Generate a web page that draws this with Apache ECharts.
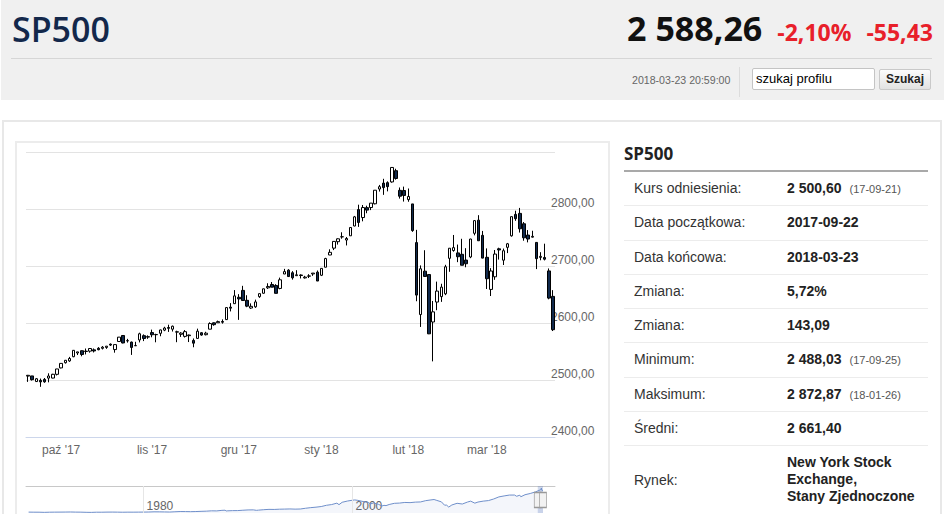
<!DOCTYPE html>
<html lang="pl">
<head>
<meta charset="utf-8">
<script src="https://cdn.jsdelivr.net/npm/echarts@6/dist/echarts.min.js"></script>
<style>
html,body{margin:0;padding:0;background:#fff;}
body{width:945px;height:514px;overflow:hidden;position:relative;font-family:"Liberation Sans",Arial,sans-serif;}
.abs{position:absolute;}
#hdr{left:1px;top:0;width:943px;height:100px;background:#f0f0f0;}
#title{left:12px;top:6px;font-family:"Open Sans",sans-serif;font-weight:600;font-size:34px;color:#13284b;white-space:nowrap;}
#quote{right:12px;top:5px;display:flex;align-items:baseline;font-family:"Open Sans",sans-serif;font-weight:700;white-space:nowrap;}
#price{font-size:34px;color:#111;}
#pct{font-size:23px;color:#e8202a;margin-left:15px;}
#chg{font-size:23px;color:#e8202a;margin-left:15px;}
#hline{left:11px;top:58px;width:921px;height:1px;background:#d6d6d6;}
#ts{left:632px;top:73px;font-size:10.6px;color:#666;line-height:14px;white-space:nowrap;}
#vsep{left:739px;top:67px;width:1px;height:30px;background:#dcdcdc;}
#search{left:752px;top:68px;width:123px;height:22px;box-sizing:border-box;border:1px solid #c4c4c4;background:#fff;border-radius:2px;font-size:13px;line-height:20px;padding-left:3px;color:#000;white-space:nowrap;}
#btn{left:879px;top:69px;width:52px;height:21px;box-sizing:border-box;border:1px solid #c9c9c9;background:linear-gradient(#fcfcfc,#e2e2e2);font-weight:bold;font-size:12px;text-align:center;line-height:19px;border-radius:2px;color:#222;}
#outer{left:2px;top:120px;width:936px;height:420px;border:2px solid #e8e8e8;}
#chartbox{left:15px;top:141px;width:591px;height:400px;border:2px solid #ececec;}
#chart{left:16px;top:142px;width:592px;height:372px;}
#ttl{left:624px;top:142px;font-family:"Open Sans",sans-serif;font-weight:700;font-size:17px;color:#222;}
#tline{left:624px;top:170px;width:304px;height:2px;background:#a9a9a9;}
#tbl{left:624px;top:172px;width:304px;}
.row{position:relative;height:34.25px;box-sizing:border-box;border-bottom:1px solid #ececec;font-size:14px;line-height:33px;}
.lab{position:absolute;left:10px;top:0;color:#333;white-space:nowrap;}
.val{position:absolute;left:163px;top:0;color:#222;font-weight:bold;white-space:nowrap;}
.dt{font-weight:normal;font-size:11px;color:#555;margin-left:8px;}
.row.last{height:68px;border-bottom:none;}
.row.last .lab{line-height:68px;}
.row.last .val{top:8px;line-height:17px;}
</style>
</head>
<body>
<div id="hdr" class="abs"></div>
<div id="title" class="abs">SP500</div>
<div id="quote" class="abs"><span id="price">2 588,26</span><span id="pct">-2,10%</span><span id="chg">-55,43</span></div>
<div id="hline" class="abs"></div>
<div id="ts" class="abs">2018-03-23 20:59:00</div>
<div id="vsep" class="abs"></div>
<div id="search" class="abs">szukaj profilu</div>
<div id="btn" class="abs">Szukaj</div>
<div id="outer" class="abs"></div>
<div id="chartbox" class="abs"></div>
<div id="chart" class="abs"></div>
<div id="ttl" class="abs">SP500</div>
<div id="tline" class="abs"></div>
<div id="tbl" class="abs">
  <div class="row"><span class="lab">Kurs odniesienia:</span><span class="val">2 500,60<span class="dt">(17-09-21)</span></span></div>
  <div class="row"><span class="lab">Data początkowa:</span><span class="val">2017-09-22</span></div>
  <div class="row"><span class="lab">Data końcowa:</span><span class="val">2018-03-23</span></div>
  <div class="row"><span class="lab">Zmiana:</span><span class="val">5,72%</span></div>
  <div class="row"><span class="lab">Zmiana:</span><span class="val">143,09</span></div>
  <div class="row"><span class="lab">Minimum:</span><span class="val">2 488,03<span class="dt">(17-09-25)</span></span></div>
  <div class="row"><span class="lab">Maksimum:</span><span class="val">2 872,87<span class="dt">(18-01-26)</span></span></div>
  <div class="row"><span class="lab">Średni:</span><span class="val">2 661,40</span></div>
  <div class="row last"><span class="lab">Rynek:</span><span class="val">New York Stock<br>Exchange,<br>Stany Zjednoczone</span></div>
</div>
<script>
const dates = [
 '2017-09-20','2017-09-21','2017-09-22','2017-09-25','2017-09-26','2017-09-27','2017-09-28','2017-09-29',
 '2017-10-02','2017-10-03','2017-10-04','2017-10-05','2017-10-06','2017-10-09','2017-10-10','2017-10-11','2017-10-12','2017-10-13',
 '2017-10-16','2017-10-17','2017-10-18','2017-10-19','2017-10-20','2017-10-23','2017-10-24','2017-10-25','2017-10-26','2017-10-27','2017-10-30','2017-10-31',
 '2017-11-01','2017-11-02','2017-11-03','2017-11-06','2017-11-07','2017-11-08','2017-11-09','2017-11-10','2017-11-13','2017-11-14','2017-11-15','2017-11-16','2017-11-17',
 '2017-11-20','2017-11-21','2017-11-22','2017-11-24','2017-11-27','2017-11-28','2017-11-29','2017-11-30',
 '2017-12-01','2017-12-04','2017-12-05','2017-12-06','2017-12-07','2017-12-08','2017-12-11','2017-12-12','2017-12-13','2017-12-14','2017-12-15',
 '2017-12-18','2017-12-19','2017-12-20','2017-12-21','2017-12-22','2017-12-26','2017-12-27','2017-12-28','2017-12-29',
 '2018-01-02','2018-01-03','2018-01-04','2018-01-05','2018-01-08','2018-01-09','2018-01-10','2018-01-11','2018-01-12',
 '2018-01-16','2018-01-17','2018-01-18','2018-01-19','2018-01-22','2018-01-23','2018-01-24','2018-01-25','2018-01-26','2018-01-29','2018-01-30','2018-01-31',
 '2018-02-01','2018-02-02','2018-02-05','2018-02-06','2018-02-07','2018-02-08','2018-02-09','2018-02-12','2018-02-13','2018-02-14','2018-02-15','2018-02-16',
 '2018-02-20','2018-02-21','2018-02-22','2018-02-23','2018-02-26','2018-02-27','2018-02-28',
 '2018-03-01','2018-03-02','2018-03-05','2018-03-06','2018-03-07','2018-03-08','2018-03-09','2018-03-12','2018-03-13','2018-03-14','2018-03-15','2018-03-16',
 '2018-03-19','2018-03-20','2018-03-21','2018-03-22','2018-03-23'
];
const opens = [
 2506.84,2507.16,2497.26,2499.39,2501.04,2503.30,2503.41,2509.96,
 2521.20,2530.34,2533.48,2540.86,2547.44,2551.39,2549.99,2550.62,2552.88,2555.66,
 2555.57,2557.17,2562.87,2553.39,2567.56,2578.08,2568.66,2566.52,2560.08,2570.26,2577.75,2575.99,
 2583.21,2579.46,2581.93,2587.47,2592.11,2589.16,2584.00,2580.18,2576.53,2577.75,2569.45,2572.95,2582.94,
 2579.49,2589.17,2600.31,2600.42,2602.66,2605.94,2627.82,2633.93,
 2645.10,2657.19,2639.78,2626.24,2628.38,2646.21,2652.19,2661.73,2667.59,2665.87,2660.63,
 2685.92,2692.71,2688.18,2683.02,2684.22,2679.09,2682.10,2686.10,2689.15,
 2683.73,2697.85,2719.31,2731.33,2742.67,2751.15,2745.55,2752.97,2770.18,
 2798.96,2784.99,2802.40,2802.60,2809.16,2835.05,2845.42,2846.24,2847.48,2867.23,2832.74,2832.41,
 2816.45,2808.92,2741.06,2614.78,2690.95,2685.01,2601.78,2636.75,2646.27,2651.21,2713.46,2727.14,
 2722.99,2720.53,2710.42,2715.80,2757.37,2780.45,2753.78,
 2715.22,2658.89,2681.06,2730.18,2710.18,2732.75,2752.91,2790.54,2792.31,2774.06,2754.27,2750.57,
 2741.38,2715.05,2714.99,2691.36,2646.71
];
const highs = [
 2508.85,2507.16,2503.47,2502.54,2503.51,2511.75,2510.81,2519.44,
 2529.23,2535.13,2540.53,2552.51,2549.41,2551.82,2555.23,2555.24,2555.33,2557.65,
 2559.47,2559.71,2564.11,2562.36,2575.44,2578.29,2572.18,2567.40,2567.07,2582.98,2580.03,2578.29,
 2588.40,2581.11,2588.42,2593.38,2597.02,2595.47,2586.50,2583.81,2587.66,2579.66,2572.84,2590.09,2583.96,
 2584.64,2601.19,2600.94,2604.21,2606.41,2627.69,2634.89,2657.74,
 2650.62,2665.19,2648.72,2634.41,2640.99,2651.65,2660.33,2669.72,2671.88,2668.09,2679.63,
 2694.97,2694.44,2691.01,2692.64,2685.35,2682.74,2685.64,2687.66,2692.12,
 2695.89,2714.37,2729.29,2743.45,2748.51,2759.14,2750.80,2767.56,2787.85,
 2807.54,2807.04,2805.83,2810.33,2833.03,2842.24,2852.97,2848.56,2872.87,2870.62,2837.75,2839.26,
 2835.96,2808.92,2763.39,2701.04,2727.67,2685.27,2638.67,2672.61,2668.84,2702.10,2731.51,2754.42,
 2737.60,2747.75,2731.26,2747.76,2780.64,2789.15,2761.52,
 2730.89,2696.25,2728.09,2732.08,2730.60,2740.45,2786.57,2796.98,2801.90,2777.11,2763.03,2761.85,
 2741.38,2724.22,2739.14,2695.68,2657.67
];
const lows = [
 2496.67,2499.00,2496.54,2488.03,2495.12,2495.91,2502.93,2507.99,
 2520.40,2528.85,2531.80,2540.02,2543.79,2541.60,2544.86,2547.95,2548.31,2552.09,
 2553.59,2554.69,2559.67,2547.92,2567.56,2564.33,2565.58,2544.00,2559.80,2565.94,2568.25,2572.15,
 2574.92,2566.17,2576.77,2585.66,2584.35,2585.02,2566.33,2575.57,2574.48,2566.56,2557.45,2572.95,2577.62,
 2578.24,2589.17,2595.23,2600.42,2598.87,2605.44,2620.32,2633.93,
 2605.52,2639.03,2627.73,2624.75,2626.53,2644.10,2651.47,2659.78,2662.85,2652.01,2659.14,
 2685.92,2680.74,2676.11,2682.40,2678.13,2677.96,2678.91,2682.69,2673.61,
 2682.36,2697.77,2719.07,2727.92,2737.60,2747.86,2736.06,2752.78,2769.64,
 2768.64,2778.38,2792.56,2798.08,2808.12,2830.59,2824.81,2830.94,2846.18,2851.48,2818.27,2813.04,
 2812.70,2759.97,2638.17,2593.07,2681.33,2580.56,2532.69,2622.45,2637.08,2648.87,2689.82,2725.11,
 2706.76,2701.29,2697.77,2713.74,2753.78,2744.22,2713.54,
 2659.65,2647.32,2675.75,2711.26,2701.74,2722.65,2751.54,2779.26,2758.68,2744.38,2741.47,2749.97,
 2694.59,2710.05,2709.79,2641.59,2585.89
];
const closes = [
 2508.24,2500.60,2502.22,2496.66,2496.84,2507.04,2510.06,2519.36,
 2529.12,2534.58,2537.74,2552.07,2549.33,2544.73,2550.64,2555.24,2550.93,2553.17,
 2557.64,2559.36,2561.26,2562.10,2575.21,2564.98,2569.13,2557.15,2560.40,2581.07,2572.83,2575.26,
 2579.36,2579.85,2587.84,2591.13,2590.64,2594.38,2584.62,2582.30,2584.84,2578.87,2564.62,2585.64,2578.85,
 2582.14,2599.03,2597.08,2602.42,2601.42,2627.04,2626.07,2647.58,
 2642.22,2639.44,2629.57,2629.27,2636.98,2651.50,2659.99,2664.11,2662.85,2652.01,2675.81,
 2690.16,2681.47,2679.25,2684.57,2683.34,2680.50,2682.62,2687.54,2673.61,
 2695.81,2713.06,2723.99,2743.15,2747.71,2751.29,2748.23,2767.56,2786.24,
 2776.42,2802.56,2798.03,2810.30,2832.97,2839.13,2837.54,2839.25,2872.87,2853.53,2822.43,2823.81,
 2821.98,2762.13,2648.94,2695.14,2681.66,2581.00,2619.55,2656.00,2662.94,2698.63,2731.20,2732.22,
 2716.26,2701.33,2703.96,2747.30,2779.60,2744.28,2713.83,
 2677.67,2691.25,2720.94,2728.12,2726.80,2738.97,2786.57,2783.02,2765.31,2749.48,2747.33,2752.01,
 2712.92,2716.94,2711.93,2643.69,2588.26
];
const monthNames = ['sty','lut','mar','kwi','maj','cze','lip','sie','wrz','paź','lis','gru'];
const priceTicks = {min: 2400, max: 2900, step: 100};
const navYears = [1969,1969.5,1970,1970.5,1971,1971.5,1972,1972.5,1973,1973.5,1974,1974.5,1975,1975.5,1976,1976.5,1977,1977.5,1978,1978.5,1979,1979.5,
 1980,1980.5,1981,1981.5,1982,1982.5,1983,1983.5,1984,1984.5,1985,1985.5,1986,1986.5,1987,1987.5,1987.8,1987.9,1988,1988.5,1989,1989.5,
 1990,1990.5,1990.8,1991,1991.5,1992,1992.5,1993,1993.5,1994,1994.5,1995,1995.5,1996,1996.5,1997,1997.5,1998,1998.5,1998.7,1999,1999.5,
 2000,2000.2,2000.5,2001,2001.5,2001.7,2002,2002.5,2002.8,2003,2003.2,2003.5,2004,2004.5,2005,2005.5,2006,2006.5,2007,2007.5,2007.8,
 2008,2008.5,2008.8,2009,2009.2,2009.5,2010,2010.5,2011,2011.3,2011.7,2012,2012.5,2013,2013.5,2014,2014.5,2015,2015.5,2015.7,
 2016,2016.1,2016.5,2017,2017.5,2018,2018.07,2018.1,2018.22];
const navValues = [103,95,92,75,92,100,103,108,118,104,97,80,70,93,90,104,107,100,89,98,96,102,
 106,114,136,131,122,110,141,168,165,153,167,191,211,250,242,304,320,230,247,272,278,317,
 353,360,306,330,380,417,408,436,450,466,444,459,544,616,670,741,885,970,1133,957,1229,1372,
 1469,1498,1454,1320,1224,1040,1148,990,800,880,848,975,1112,1140,1212,1191,1248,1270,1418,1503,1549,
 1468,1280,900,903,680,919,1115,1030,1258,1360,1131,1258,1362,1426,1606,1848,1960,2059,2063,1920,
 2044,1865,2098,2239,2423,2674,2872,2619,2588];
const navLabelYears = [1980, 2000];
const navRange = {min: 1968.75, max: 2019.37};
const navSelection = [2017.72, 2018.22];

const FONT = '"Liberation Sans", Arial, sans-serif';
const isMonthStart = (i) => i > 0 && dates[i].slice(5, 7) !== dates[i - 1].slice(5, 7);
const candleData = dates.map((d, i) => [opens[i], closes[i], lows[i], highs[i]]);
const navData = navYears.map((y, i) => [y, navValues[i]]);

const chart = echarts.init(document.getElementById('chart'), null, {renderer: 'svg'});
chart.setOption({
  animation: false,
  textStyle: {fontFamily: FONT},
  grid: [
    {left: 10, top: 10, width: 529, height: 285},
    {left: 10, top: 344, width: 529, height: 27}
  ],
  xAxis: [
    {
      type: 'category', gridIndex: 0, data: dates, boundaryGap: true,
      axisLine: {lineStyle: {color: '#ccd6eb', width: 1}},
      axisTick: {interval: (i) => isMonthStart(i), alignWithLabel: true, length: 10, lineStyle: {color: '#ccd6eb'}},
      axisLabel: {
        interval: (i) => isMonthStart(i), color: '#666', fontSize: 12, margin: 7, fontFamily: FONT,
        formatter: (v) => monthNames[+v.slice(5, 7) - 1] + " '" + v.slice(2, 4)
      },
      splitLine: {show: false}
    },
    {
      type: 'value', gridIndex: 1, position: 'bottom', min: navRange.min, max: navRange.max,
      axisLine: {show: false}, axisTick: {show: false}, splitLine: {show: false},
      axisLabel: {customValues: navLabelYears, inside: true, margin: 1, align: 'left', padding: [0, 0, 0, 3],
        color: '#666', fontSize: 12, fontFamily: FONT, formatter: (v) => String(Math.round(v))}
    },
    {
      type: 'value', gridIndex: 1, position: 'top', min: navRange.min, max: navRange.max,
      axisLine: {show: true, lineStyle: {color: '#c8c8c8'}}, axisTick: {show: false},
      axisLabel: {show: false}, splitLine: {show: false}
    }
  ],
  yAxis: [
    {
      type: 'value', gridIndex: 0, position: 'right', min: priceTicks.min, max: priceTicks.max, interval: priceTicks.step,
      axisLine: {show: false}, axisTick: {show: false},
      splitLine: {lineStyle: {color: '#e3e3e3', width: 1}},
      axisLabel: {margin: -4, align: 'left', verticalAlign: 'bottom', color: '#666', fontSize: 12, fontFamily: FONT,
        formatter: (v) => v >= priceTicks.max ? '' : v.toFixed(2).replace('.', ',')}
    },
    {type: 'value', gridIndex: 1, min: 0, max: 3100, show: false}
  ],
  series: [
    {
      type: 'candlestick', xAxisIndex: 0, yAxisIndex: 0, data: candleData, barWidth: 3,
      itemStyle: {color: '#ffffff', color0: '#10294c', borderColor: '#000000', borderColor0: '#000000', borderWidth: 1}
    },
    {
      type: 'line', xAxisIndex: 1, yAxisIndex: 1, data: navData, showSymbol: false, silent: true,
      lineStyle: {color: '#6f8fca', width: 1},
      areaStyle: {color: 'rgba(102,133,194,0.10)'},
      markLine: {silent: true, symbol: ['none', 'none'], label: {show: false},
        lineStyle: {color: '#e6e6e6', type: 'solid', width: 1},
        data: navLabelYears.map((y) => ({xAxis: y}))},
      markArea: {silent: true, itemStyle: {color: 'rgba(102,133,194,0.3)'},
        data: [[{xAxis: navSelection[0]}, {xAxis: navSelection[1]}]]},
      markPoint: {silent: true, symbol: 'rect', symbolSize: [7, 15], label: {show: false},
        itemStyle: {color: '#f2f2f2', borderColor: '#999999', borderWidth: 1},
        data: navSelection.map((x) => ({coord: [x, 1490]}))}
    }
  ]
});
</script>
</body>
</html>
